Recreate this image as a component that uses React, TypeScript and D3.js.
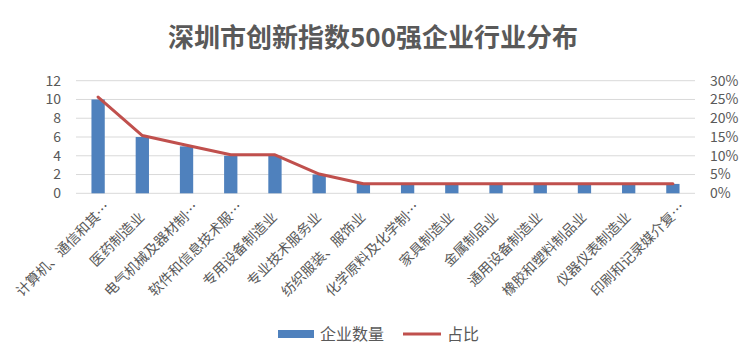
import React from "react";
import * as d3 from "d3";

const categories = [
  "计算机、通信和其他电子设备制造业",
  "医药制造业",
  "电气机械及器材制造业",
  "软件和信息技术服务业",
  "专用设备制造业",
  "专业技术服务业",
  "纺织服装、服饰业",
  "化学原料及化学制品制造业",
  "家具制造业",
  "金属制品业",
  "通用设备制造业",
  "橡胶和塑料制品业",
  "仪器仪表制造业",
  "印刷和记录媒介复制业",
];
const counts = [10, 6, 5, 4, 4, 2, 1, 1, 1, 1, 1, 1, 1, 1];
const total = d3.sum(counts);
const shares = counts.map((c) => c / total);
const leftTicks = [0, 2, 4, 6, 8, 10, 12];
const rightTicks = [0, 0.05, 0.1, 0.15, 0.2, 0.25, 0.3];

const W = 750;
const H = 360;
const plot = { left: 76, right: 695, top: 80.7, bottom: 193.3 };
const FONT = "'Noto Sans CJK SC', 'Noto Sans', sans-serif";
const GRAY = "#595959";
const BLUE = "#4F81BD";
const RED = "#C0504D";
const MAXCH = 8;

export default function App() {
  const band = d3.scaleBand<string>().domain(categories).range([plot.left, plot.right]);
  const yL = d3.scaleLinear().domain([0, 12]).range([plot.bottom, plot.top]);
  const yR = d3.scaleLinear().domain([0, 0.3]).range([plot.bottom, plot.top]);
  const cx = (c: string) => (band(c) as number) + band.bandwidth() / 2;
  const bw = 13.3;
  const line = d3
    .line<number>()
    .x((_, i) => cx(categories[i]))
    .y((d) => yR(d));

  return (
    <svg
      width={W}
      height={H}
      style={{ position: "absolute", left: 0, top: 0, background: "#fff" }}
      fontFamily={FONT}
    >
      <rect x={0} y={0} width={W} height={H} fill="#fff" />
      <text
        x={373}
        y={47}
        textAnchor="middle"
        fontSize={26}
        fontWeight="bold"
        fill={GRAY}
      >
        深圳市创新指数500强企业行业分布
      </text>
      {leftTicks.map((t) => (
        <line
          key={"g" + t}
          x1={plot.left}
          x2={plot.right}
          y1={yL(t)}
          y2={yL(t)}
          stroke="#D9D9D9"
          strokeWidth={1}
        />
      ))}
      {leftTicks.map((t) => (
        <text
          key={"l" + t}
          x={61}
          y={yL(t)}
          dy="0.35em"
          textAnchor="end"
          fontSize={14}
          fill={GRAY}
        >
          {t}
        </text>
      ))}
      {rightTicks.map((t) => (
        <text
          key={"r" + t}
          x={710}
          y={yR(t)}
          dy="0.35em"
          textAnchor="start"
          fontSize={14}
          fill={GRAY}
        >
          {d3.format(".0%")(t)}
        </text>
      ))}
      {categories.map((c, i) => (
        <rect
          key={"b" + c}
          x={cx(c) - bw / 2}
          y={yL(counts[i])}
          width={bw}
          height={yL(0) - yL(counts[i])}
          fill={BLUE}
        />
      ))}
      <path
        d={line(shares) as string}
        fill="none"
        stroke={RED}
        strokeWidth={3}
        strokeLinejoin="round"
        strokeLinecap="round"
      />
      {categories.map((c) => {
        const cut = c.length > MAXCH;
        return (
          <g key={"x" + c} transform={`translate(${cx(c) + 3},${218}) rotate(-45)`}>
            <text textAnchor="end" fontSize={14} fill={GRAY}>
              {cut ? c.slice(0, MAXCH) : c}
            </text>
            {cut && (
              <text textAnchor="start" fontSize={14} fill={GRAY}>
                …
              </text>
            )}
          </g>
        );
      })}
      <rect x={278} y={330} width={36} height={8} fill={BLUE} />
      <text x={320} y={334} dy="0.35em" fontSize={16} fill={GRAY}>
        企业数量
      </text>
      <line x1={403} x2={441} y1={334} y2={334} stroke={RED} strokeWidth={3} />
      <text x={447} y={334} dy="0.35em" fontSize={16} fill={GRAY}>
        占比
      </text>
    </svg>
  );
}
